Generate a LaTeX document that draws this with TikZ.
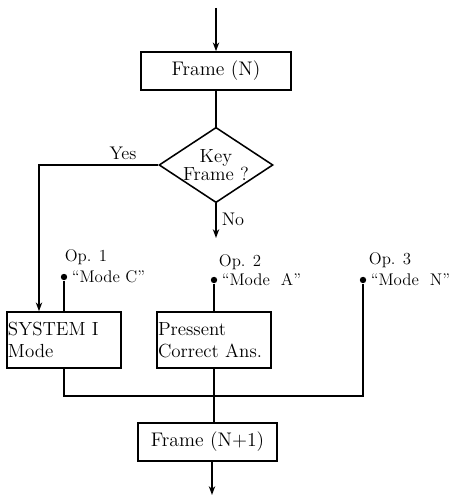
\documentclass[tikz,border=0pt]{standalone}
\usetikzlibrary{shapes.geometric,arrows.meta,positioning}
\begin{document}
\begin{tikzpicture}[scale=1,line width=1pt,>={Stealth[length=2.2mm,width=1.6mm]},
  framebox/.style={draw,line width=1.1pt,inner sep=0pt,font=\fontsize{14}{16}\selectfont},
  modebox/.style={draw,line width=1.1pt,inner xsep=0.025cm,inner ysep=0pt,text width=2.8cm,
    minimum height=1.4cm,align=left,font=\fontsize{13.5}{15.5}\selectfont},
  keybox/.style={draw,diamond,aspect=1.5,inner sep=0pt,line width=1.1pt,align=center,
    font=\fontsize{13.5}{13}\selectfont},
  dot/.style={circle,fill,inner sep=0pt,minimum size=1.6mm},
  optext/.style={inner sep=0pt,font=\fontsize{12}{14}\selectfont}]
\useasboundingbox (0,0) rectangle (11.3,12.425);

\node[framebox,minimum width=3.75cm,minimum height=0.95cm] (fn) at (5.4,10.65) {Frame (N)};
\coordinate (in) at (5.4,12.225);
\draw[->] (in) -- (fn);

\node[keybox,minimum width=2.85cm,minimum height=1.875cm] (key) at (5.4,8.3) {Key\\Frame ?};
\draw (fn) -- (key);

\node[modebox] (sys) at (1.6,3.925) {SYSTEM I\\Mode};
\node[modebox] (ans) at (5.35,3.925) {Pressent\\Correct Ans.};

\coordinate (yes) at (0.975,8.3);
\draw[->] (key.west) -- (yes) -- (yes |- sys.north);
\node[optext,font=\fontsize{13}{15}\selectfont] at (3.075,8.6) {Yes};

\coordinate (no) at (5.4,6.475);
\draw[->] (key.south) -- (no);
\node[optext,font=\fontsize{13}{15}\selectfont] at (5.825,6.95) {No};

\node[dot] (op1) at (1.6,5.5) {};
\node[dot] (op2) at (5.35,5.425) {};
\node[dot] (op3) at (9.075,5.425) {};
\node[optext] at (2.15,6.0) {Op. 1};
\node[optext] at (6.0,5.875) {Op. 2};
\node[optext] at (9.75,5.925) {Op. 3};
\node[optext,right=0.08cm of op1] {``Mode C''};
\node[optext,right=0.08cm of op2] {``Mode~~A''};
\node[optext,right=0.08cm of op3] {``Mode~~N''};
\draw (op1) -- (sys);
\draw (op2) -- (ans);

\node[framebox,minimum width=3.475cm,minimum height=0.95cm] (fn1) at (5.19,1.375) {Frame (N+1)};
\coordinate (bus) at (5.35,2.525);
\draw (sys.south) |- (bus) -| (op3);
\draw (ans) -- (bus) -- (bus |- fn1.north);

\coordinate (out) at (5.3,0.05);
\draw[->] (fn1.south -| out) -- (out);
\end{tikzpicture}
\end{document}
